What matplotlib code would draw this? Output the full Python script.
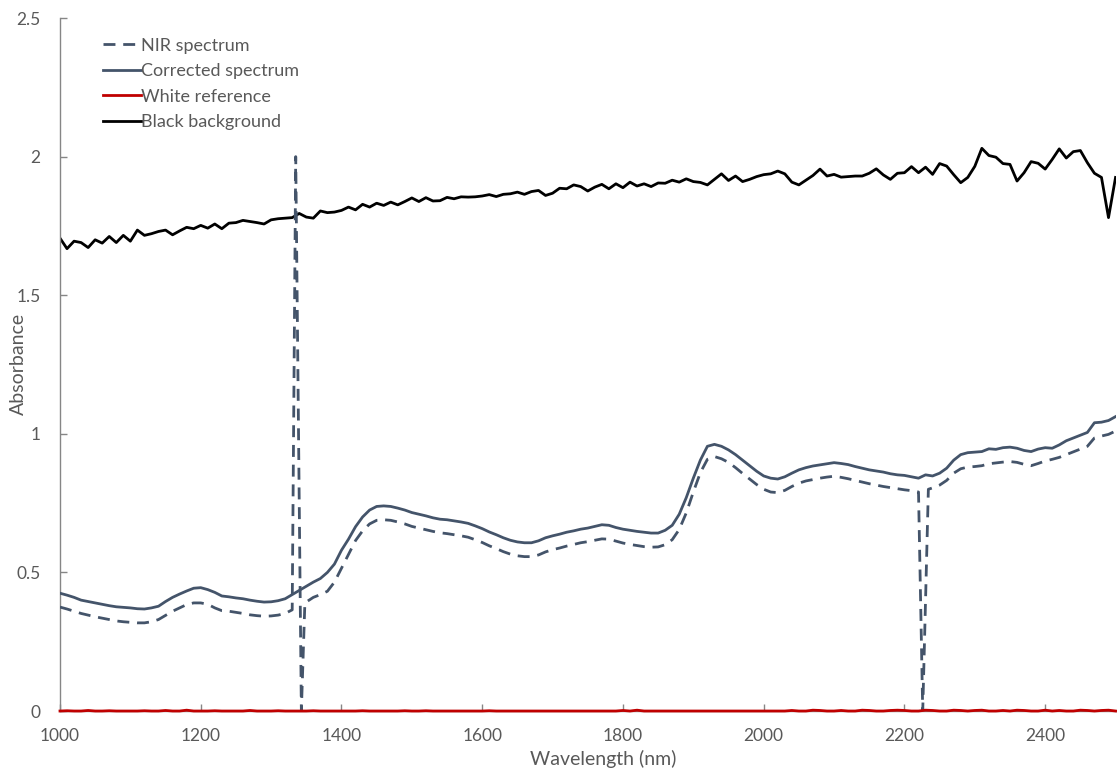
import numpy as np
import matplotlib
matplotlib.use("Agg")
import matplotlib.pyplot as plt

plt.rcParams["font.family"] = ["Lato", "DejaVu Sans"]

# ---- data -------------------------------------------------------------
wavelength = np.arange(1000, 2501, 10)

corrected_spectrum = [
    0.425, 0.418, 0.410, 0.400, 0.395, 0.390, 0.385, 0.380, 0.376, 0.374,
    0.372, 0.369, 0.368, 0.372, 0.378, 0.395, 0.410, 0.422, 0.433, 0.443,
    0.445, 0.438, 0.428, 0.415, 0.412, 0.408, 0.405, 0.400, 0.396, 0.393,
    0.394, 0.398, 0.405, 0.420, 0.435, 0.450, 0.465, 0.478, 0.500, 0.530,
    0.580, 0.620, 0.665, 0.700, 0.725, 0.738, 0.740, 0.738, 0.732, 0.725,
    0.716, 0.710, 0.704, 0.697, 0.692, 0.690, 0.686, 0.682, 0.677, 0.668,
    0.658, 0.646, 0.636, 0.625, 0.616, 0.610, 0.607, 0.607, 0.614, 0.625,
    0.632, 0.638, 0.645, 0.650, 0.656, 0.660, 0.666, 0.672, 0.670, 0.662,
    0.656, 0.652, 0.648, 0.645, 0.642, 0.642, 0.652, 0.670, 0.710, 0.770,
    0.840, 0.905, 0.955, 0.962, 0.955, 0.942, 0.925, 0.905, 0.885, 0.865,
    0.848, 0.840, 0.837, 0.845, 0.858, 0.870, 0.878, 0.884, 0.888, 0.892,
    0.896, 0.893, 0.889, 0.882, 0.876, 0.870, 0.866, 0.862, 0.856, 0.852,
    0.850, 0.845, 0.840, 0.852, 0.848, 0.858, 0.876, 0.905, 0.925, 0.932,
    0.934, 0.936, 0.946, 0.944, 0.950, 0.952, 0.948, 0.940, 0.936, 0.945,
    0.950, 0.948, 0.960, 0.975, 0.985, 0.995, 1.005, 1.040, 1.042, 1.048,
    1.062,
]

black_background = [
    1.706, 1.668, 1.695, 1.690, 1.672, 1.700, 1.688, 1.712, 1.690, 1.716,
    1.695, 1.735, 1.716, 1.722, 1.730, 1.735, 1.718, 1.732, 1.745, 1.740,
    1.752, 1.742, 1.757, 1.740, 1.760, 1.762, 1.770, 1.766, 1.762, 1.757,
    1.772, 1.776, 1.778, 1.780, 1.795, 1.782, 1.778, 1.804, 1.798, 1.800,
    1.806, 1.818, 1.808, 1.828, 1.818, 1.832, 1.824, 1.836, 1.826, 1.838,
    1.851, 1.838, 1.852, 1.840, 1.841, 1.853, 1.848, 1.855, 1.854, 1.855,
    1.858, 1.863, 1.856, 1.864, 1.866, 1.872, 1.864, 1.874, 1.878, 1.860,
    1.868, 1.886, 1.884, 1.898, 1.892, 1.876, 1.890, 1.900, 1.884, 1.902,
    1.888, 1.908, 1.894, 1.902, 1.892, 1.905, 1.904, 1.915, 1.908, 1.920,
    1.910, 1.907, 1.898, 1.918, 1.938, 1.914, 1.930, 1.910, 1.918, 1.928,
    1.935, 1.938, 1.948, 1.938, 1.908, 1.898, 1.915, 1.932, 1.955, 1.930,
    1.936, 1.926, 1.928, 1.930, 1.930, 1.940, 1.956, 1.934, 1.918, 1.940,
    1.942, 1.964, 1.942, 1.962, 1.936, 1.975, 1.966, 1.935, 1.906, 1.925,
    1.965, 2.030, 2.004, 1.998, 1.975, 1.972, 1.912, 1.942, 1.982, 1.976,
    1.955, 1.990, 2.028, 1.995, 2.018, 2.022, 1.978, 1.940, 1.925, 1.780,
    1.925,
]

white_reference = [
    0.000, 0.001, 0.000, 0.000, 0.002, 0.000, 0.000, 0.001, 0.000, 0.000,
    0.000, 0.000, 0.001, 0.000, 0.000, 0.002, 0.000, 0.000, 0.003, 0.000,
    0.000, 0.000, 0.001, 0.000, 0.000, 0.000, 0.000, 0.002, 0.000, 0.000,
    0.000, 0.001, 0.000, 0.000, 0.000, 0.000, 0.001, 0.000, 0.000, 0.000,
    0.000, 0.000, 0.000, 0.001, 0.000, 0.000, 0.000, 0.000, 0.000, 0.001,
    0.000, 0.000, 0.001, 0.000, 0.000, 0.000, 0.000, 0.000, 0.000, 0.000,
    0.000, 0.001, 0.000, 0.000, 0.000, 0.000, 0.000, 0.000, 0.000, 0.000,
    0.000, 0.000, 0.000, 0.000, 0.000, 0.000, 0.000, 0.000, 0.000, 0.000,
    0.002, 0.000, 0.003, 0.000, 0.000, 0.000, 0.000, 0.000, 0.000, 0.000,
    0.000, 0.000, 0.000, 0.000, 0.000, 0.000, 0.000, 0.000, 0.000, 0.000,
    0.000, 0.000, 0.000, 0.000, 0.002, 0.000, 0.000, 0.003, 0.002, 0.000,
    0.000, 0.002, 0.000, 0.000, 0.003, 0.002, 0.000, 0.000, 0.002, 0.003,
    0.002, 0.000, 0.000, 0.003, 0.002, 0.000, 0.000, 0.003, 0.002, 0.000,
    0.002, 0.003, 0.000, 0.000, 0.002, 0.000, 0.003, 0.002, 0.000, 0.000,
    0.003, 0.000, 0.002, 0.000, 0.000, 0.003, 0.002, 0.000, 0.002, 0.003,
    0.000,
]

# Raw NIR spectrum: regular grid plus the detector spikes near 1335 and 2226 nm
nir_wavelength = np.concatenate([
    np.arange(1000, 1331, 10), [1335, 1343, 1348],
    np.arange(1360, 2221, 10), [2226, 2234],
    np.arange(2240, 2501, 10),
])
nir_spectrum = [
    0.375, 0.368, 0.360, 0.352, 0.346, 0.340, 0.335, 0.330, 0.325, 0.322,
    0.320, 0.318, 0.318, 0.322, 0.330, 0.345, 0.360, 0.372, 0.384, 0.390,
    0.390, 0.385, 0.372, 0.362, 0.360, 0.356, 0.352, 0.347, 0.344, 0.342,
    0.343, 0.346, 0.352, 0.365,
    2.000, 0.000, 0.390,
    0.410, 0.420, 0.432, 0.465,
    0.515, 0.565, 0.615, 0.650, 0.675, 0.688, 0.690, 0.688, 0.682, 0.675,
    0.666, 0.660, 0.654, 0.648, 0.643, 0.640, 0.636, 0.632, 0.627, 0.618,
    0.608, 0.596, 0.586, 0.575, 0.566, 0.560, 0.557, 0.557, 0.563, 0.574,
    0.582, 0.588, 0.595, 0.601, 0.607, 0.611, 0.616, 0.621, 0.620, 0.613,
    0.606, 0.601, 0.597, 0.593, 0.591, 0.592, 0.600, 0.618, 0.655, 0.715,
    0.790, 0.860, 0.908, 0.918, 0.910, 0.897, 0.878, 0.857, 0.837, 0.817,
    0.800, 0.790, 0.788, 0.796, 0.810, 0.822, 0.830, 0.835, 0.840, 0.844,
    0.847, 0.843, 0.838, 0.832, 0.826, 0.820, 0.815, 0.810, 0.806, 0.802,
    0.798, 0.795, 0.790,
    0.000, 0.800,
    0.805, 0.815, 0.832, 0.858, 0.874, 0.880,
    0.882, 0.885, 0.892, 0.895, 0.898, 0.900, 0.897, 0.890, 0.885, 0.893,
    0.902, 0.908, 0.915, 0.925, 0.935, 0.945, 0.955, 0.985, 0.992, 0.998,
    1.010,
]

x_ticks = [1000, 1200, 1400, 1600, 1800, 2000, 2200, 2400]
y_ticks = [0, 0.5, 1, 1.5, 2, 2.5]
y_tick_labels = ["0", "0.5", "1", "1.5", "2", "2.5"]

# ---- figure -----------------------------------------------------------
SLATE = "#44546A"
RED = "#C00000"
AXIS_GREY = "#868686"
TEXT_GREY = "#595959"

fig = plt.figure(figsize=(11.17, 7.71), dpi=100)
ax = fig.add_axes([0.0537, 0.0778, 0.945, 0.8988])

lw = 2.0
ax.plot(nir_wavelength, nir_spectrum, color=SLATE, lw=lw,
        dashes=(4.3, 2.8), label="NIR spectrum", zorder=3)
ax.plot(wavelength, corrected_spectrum, color=SLATE, lw=lw,
        label="Corrected spectrum", zorder=4)
ax.plot(wavelength, white_reference, color=RED, lw=2.0,
        label="White reference", zorder=5, clip_on=False)
ax.plot(wavelength, black_background, color="black", lw=lw,
        label="Black background", zorder=2)

ax.set_xlim(1000, 2500)
ax.set_ylim(0, 2.5)
ax.set_xticks(x_ticks)
ax.set_yticks(y_ticks)
ax.set_yticklabels(y_tick_labels)

for side in ("top", "right"):
    ax.spines[side].set_visible(False)
for side in ("left", "bottom"):
    ax.spines[side].set_color(AXIS_GREY)
    ax.spines[side].set_linewidth(1.0)

ax.tick_params(axis="both", direction="in", length=5, width=1.0,
               color=AXIS_GREY, labelcolor=TEXT_GREY, labelsize=12.5)
ax.tick_params(axis="x", pad=12)
ax.tick_params(axis="y", pad=14)

ax.set_xlabel("Wavelength (nm)", fontsize=14, color=TEXT_GREY)
ax.set_ylabel("Absorbance", fontsize=14, color=TEXT_GREY)
ax.xaxis.set_label_coords((603 - 60) / 1055.5, (711 - 759) / 693)
ax.xaxis.label.set_va("center")
ax.yaxis.set_label_coords((18 - 60) / 1055.5, (711 - 364) / 693)
ax.yaxis.label.set_va("center")

leg = ax.legend(loc="upper left", bbox_to_anchor=(0.034, 0.982), frameon=False,
                fontsize=13, handlelength=2.1, handletextpad=0.0,
                labelspacing=0.52, borderaxespad=0.0)
for t in leg.get_texts():
    t.set_color(TEXT_GREY)

fig.savefig("out.png", dpi=100, facecolor="white")
